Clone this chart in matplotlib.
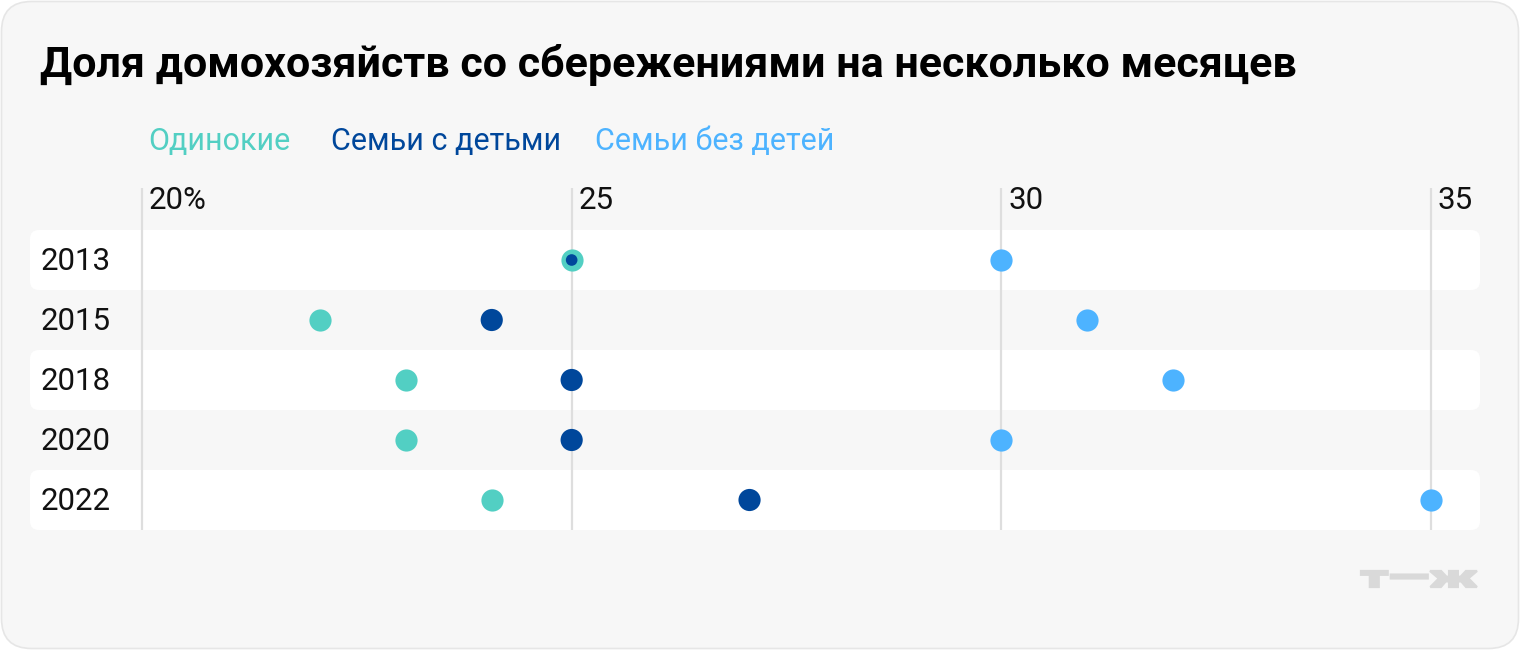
import matplotlib
matplotlib.use("Agg")
import matplotlib.pyplot as plt
from matplotlib.patches import FancyBboxPatch, PathPatch
from matplotlib.textpath import TextPath
from matplotlib.font_manager import FontProperties
from matplotlib.transforms import Affine2D

# ============================================================
# DATA
# ============================================================
YEARS = ["2013", "2015", "2018", "2020", "2022"]
SINGLES = [25, 22.07, 23.07, 23.07, 24.07]
WITH_KIDS = [25, 24.07, 25, 25, 27.07]
NO_KIDS = [30, 31, 32, 30, 35]
SERIES_NAMES = ["Одинокие", "Семьи с детьми", "Семьи без детей"]
TICKS = [20, 25, 30, 35]
TICK_LABELS = ["20%", "25", "30", "35"]

TITLE = "Доля домохозяйств со сбережениями на несколько месяцев"

# ============================================================
# STYLE
# ============================================================
COLORS = ["#52cfc3", "#00479b", "#4db3ff"]
BG = "#f7f7f7"
BAND = "#ffffff"
GRID = "#dedede"
LOGO = "#d9d9d9"

plt.rcParams["font.family"] = ["Roboto", "DejaVu Sans"]

W, H = 1520, 650
DOT = 255
DOT_SMALL = 70
LABEL_SIZE = 22.5
LEGEND_SIZE = 22

fig = plt.figure(figsize=(W / 100, H / 100), dpi=100)
fig.patch.set_facecolor("white")

# overlay in pixel coords (origin bottom-left)
bg = fig.add_axes([0, 0, 1, 1], zorder=0)
bg.set_xlim(0, W)
bg.set_ylim(0, H)
bg.axis("off")

bg.add_patch(FancyBboxPatch(
    (1.5, 1.5), W - 3, H - 3,
    boxstyle="round,pad=0,rounding_size=30",
    facecolor=BG, edgecolor="#e6e6e6", linewidth=1.2,
))

# data axes
ax = fig.add_axes([30 / W, (H - 530) / H, 1450 / W, 300 / H], zorder=1)
ax.set_facecolor("none")
ax.set_xlim(18.697, 35.570)
ax.set_ylim(len(YEARS) - 0.5, -0.5)
ax.axis("off")

# alternating row bands (white on even rows)
for i in range(0, len(YEARS), 2):
    (x0, _) = ax.transAxes.transform((0, 0))
    (x1, _) = ax.transAxes.transform((1, 0))
    (_, ya) = ax.transData.transform((20, i - 0.5))
    (_, yb) = ax.transData.transform((20, i + 0.5))
    lo, hi = min(ya, yb), max(ya, yb)
    bg.add_patch(FancyBboxPatch(
        (x0, lo), x1 - x0, hi - lo,
        boxstyle="round,pad=0,rounding_size=9",
        facecolor=BAND, edgecolor="none",
    ))

# vertical gridlines + tick labels above
xt = ax.get_xaxis_transform()
ax.vlines(TICKS, 0, 1.14, transform=xt, colors=GRID, linewidth=1.6,
          clip_on=False, zorder=1)
for t, lab in zip(TICKS, TICK_LABELS):
    ax.annotate(lab, xy=(t, 1.07), xycoords=xt, xytext=(5, 0),
                textcoords="offset points", ha="left", va="baseline",
                fontsize=LABEL_SIZE, color="#111111")

# year labels
yt = ax.get_yaxis_transform()
for i, yr in enumerate(YEARS):
    ax.text(0.007, i + 0.17, yr, transform=yt, ha="left", va="baseline",
            fontsize=LABEL_SIZE, color="#111111")

# dots
rows = list(range(len(YEARS)))
ax.scatter(SINGLES, rows, s=DOT, color=COLORS[0], linewidths=0, zorder=3)
kid_sizes = [DOT_SMALL if k == s else DOT for k, s in zip(WITH_KIDS, SINGLES)]
ax.scatter(WITH_KIDS, rows, s=kid_sizes, color=COLORS[1], linewidths=0, zorder=4)
ax.scatter(NO_KIDS, rows, s=DOT, color=COLORS[2], linewidths=0, zorder=3)

# title
bg.text(40, H - 77, TITLE, ha="left", va="baseline", fontsize=31,
        fontweight="bold", color="#000000")

# legend as coloured words
for name, col, x in zip(SERIES_NAMES, COLORS, [148, 331, 595]):
    bg.text(x, H - 150, name, ha="left", va="baseline", fontsize=LEGEND_SIZE,
            color=col)

# logo: bold glyphs stretched into the box it occupies
logo = TextPath((0, 0), "т—ж", size=30, prop=FontProperties(family="Roboto", weight="black"))
ext = logo.get_extents()
lx0, lx1, ly0, ly1 = 1361, 1477, H - 587, H - 571
tr = (Affine2D().translate(-ext.x0, -ext.y0)
      .scale((lx1 - lx0) / ext.width, (ly1 - ly0) / ext.height)
      .translate(lx0, ly0))
bg.add_patch(PathPatch(tr.transform_path(logo), facecolor=LOGO,
                       edgecolor=LOGO, linewidth=1.6))

fig.savefig("out.png", dpi=100, facecolor=fig.get_facecolor())
